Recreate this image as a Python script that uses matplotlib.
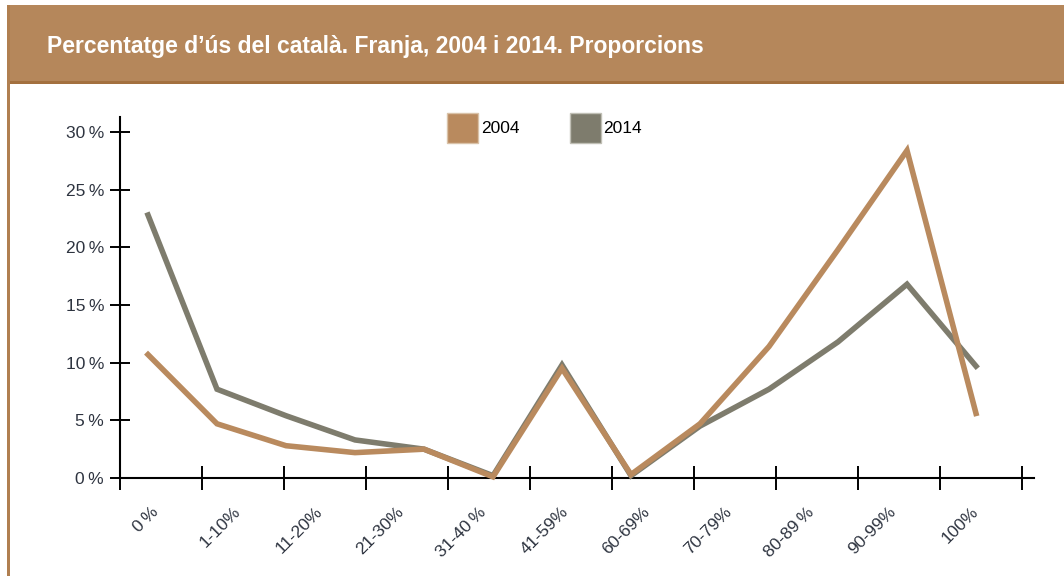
import numpy as np
import matplotlib
matplotlib.use('Agg')
import matplotlib.pyplot as plt
from matplotlib.patches import Rectangle, Patch

# Dades (percentatges llegits del gràfic)
categories = ["0\u2009%", "1-10%", "11-20%", "21-30%", "31-40\u2009%", "41-59%",
              "60-69%", "70-79%", "80-89\u2009%", "90-99%", "100%"]
serie_2004 = [10.7, 4.7, 2.8, 2.2, 2.5, 0.1, 9.5, 0.3, 4.7, 11.4, 19.8, 28.4, 5.6]
serie_2014 = [22.8, 7.7, 5.4, 3.3, 2.5, 0.2, 9.8, 0.2, 4.5, 7.7, 11.8, 16.8, 9.7]
y_ticks = [0, 5, 10, 15, 20, 25, 30]

COL_2004 = '#B98A5E'
COL_2014 = '#7E7C6D'
COL_BAR = '#B5875B'

plt.rcParams['font.family'] = ['Liberation Sans', 'DejaVu Sans']

W, H = 1064, 576
fig = plt.figure(figsize=(W / 100, H / 100), dpi=100)

# Capçalera
fig.patches.append(Rectangle((8 / W, 1 - 83 / H), 1 - 8 / W, 78 / H,
                             transform=fig.transFigure, facecolor=COL_BAR,
                             edgecolor='none', zorder=0))
fig.patches.append(Rectangle((8 / W, 1 - 84 / H), 1 - 8 / W, 3 / H,
                             transform=fig.transFigure, facecolor='#A3703F',
                             edgecolor='none', zorder=1))
fig.patches.append(Rectangle((7 / W, 0), 3 / W, 1 - 5 / H,
                             transform=fig.transFigure, facecolor='#B07F50',
                             edgecolor='none', zorder=1))
fig.text(47 / W, 1 - 46 / H, "Percentatge d\u2019ús del català. Franja, 2004 i 2014. Proporcions",
         color='white', fontsize=16.5, fontweight='bold', va='center', ha='left')

# Eix: punts a x = 148 + 69*i px, marques de 120 a 1022 px
px0, step = 148, 69
to_data = lambda px: (px - px0) / step
x_left, x_right = 120, 1034
y0_px, y_top_px = 478, 117
px_per_pct = (478 - 132) / 30

ax = fig.add_axes([x_left / W, (H - y0_px) / H, (x_right - x_left) / W,
                   (y0_px - y_top_px) / H])
ax.set_xlim(to_data(x_left), to_data(x_right))
ax.set_ylim(0, (y0_px - y_top_px) / px_per_pct)

x = np.arange(len(serie_2004))
ax.plot(x, serie_2014, color=COL_2014, lw=4, solid_joinstyle='miter', clip_on=False, zorder=3)
ax.plot(x, serie_2004, color=COL_2004, lw=4, solid_joinstyle='miter', clip_on=False, zorder=4)

edges = np.linspace(to_data(120), to_data(1022), len(categories) + 1)
centers = (edges[:-1] + edges[1:]) / 2
ax.set_xticks(edges)
ax.set_xticklabels([])
ax.set_xticks(centers, minor=True)
ax.set_xticklabels(categories, minor=True, rotation=45, ha='right', fontsize=12.5,
                   color='#2E3440')
ax.tick_params(axis='x', which='major', direction='inout', length=17, width=1.4)
ax.tick_params(axis='x', which='minor', length=0, pad=19)

ax.set_yticks(y_ticks)
ax.set_yticklabels([f"{v}\u2009%" for v in y_ticks], fontsize=12.5, color='#2E3440')
ax.tick_params(axis='y', direction='inout', length=15, width=1.4, pad=4)

for s in ['top', 'right']:
    ax.spines[s].set_visible(False)
for s in ['left', 'bottom']:
    ax.spines[s].set_linewidth(1.5)
    ax.spines[s].set_color('black')

handles = [Patch(facecolor=COL_2004, edgecolor='#D9C2A8', label='2004'),
           Patch(facecolor=COL_2014, edgecolor='#C0BFB5', label='2014')]
ax.legend(handles=handles, loc='upper left', bbox_to_anchor=(447 / W, 1 - 113 / H),
          bbox_transform=fig.transFigure, ncol=2, frameon=False, fontsize=12.5,
          handlelength=1.8, handleheight=2.3, handletextpad=0.15, columnspacing=2.9,
          borderpad=0, borderaxespad=0)

fig.savefig('out.png', dpi=100)
